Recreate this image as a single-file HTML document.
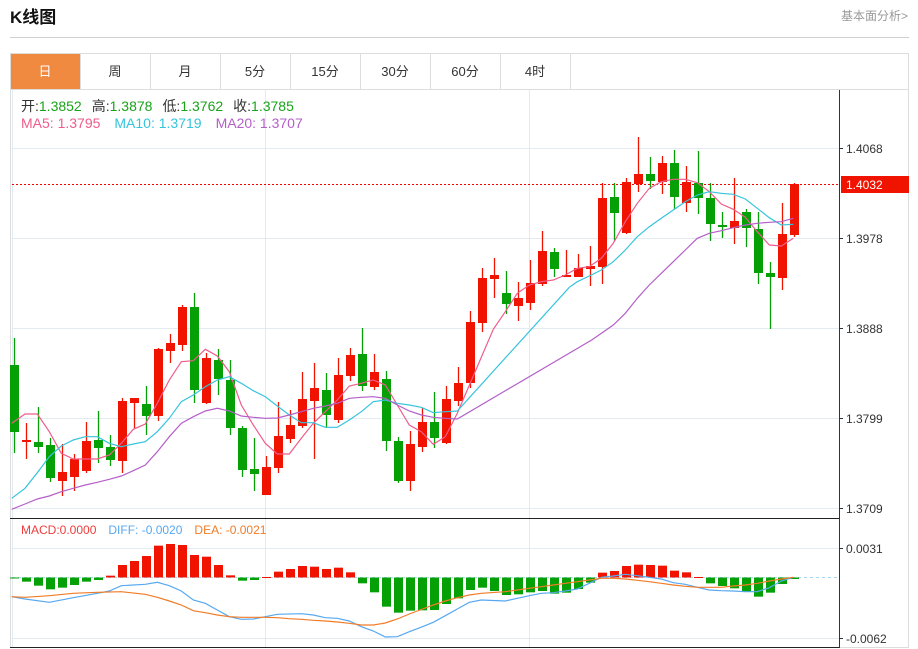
<!DOCTYPE html>
<html><head><meta charset="utf-8">
<style>
html,body{margin:0;padding:0;background:#fff;width:918px;height:649px;overflow:hidden}
body{font-family:"Liberation Sans","Noto Sans CJK SC",sans-serif;position:relative}
</style></head>
<body>
<svg id="s" width="918" height="649" xmlns="http://www.w3.org/2000/svg" style="position:absolute;left:0;top:0" font-family="Liberation Sans, Noto Sans CJK SC, sans-serif">
<text x="10" y="23" font-size="17" font-weight="bold" fill="#111">K线图</text>
<text x="908" y="20" font-size="12" fill="#999" text-anchor="end">基本面分析&gt;</text>
<line x1="10" y1="37.5" x2="909" y2="37.5" stroke="#d0d0d0"/>
<rect x="10.5" y="53.5" width="898" height="594" fill="none" stroke="#ddd"/>
<rect x="11" y="54" width="69" height="35" fill="#f08a40"/>
<line x1="10" y1="89.5" x2="909" y2="89.5" stroke="#ddd"/>
<g stroke="#ddd"><line x1="80.5" y1="53" x2="80.5" y2="89"/><line x1="150.5" y1="53" x2="150.5" y2="89"/><line x1="220.5" y1="53" x2="220.5" y2="89"/><line x1="290.5" y1="53" x2="290.5" y2="89"/><line x1="360.5" y1="53" x2="360.5" y2="89"/><line x1="430.5" y1="53" x2="430.5" y2="89"/><line x1="500.5" y1="53" x2="500.5" y2="89"/><line x1="570.5" y1="53" x2="570.5" y2="89"/></g>
<g font-size="13" text-anchor="middle" fill="#333"><text x="45" y="76" fill="#fff">日</text><text x="115" y="76">周</text><text x="185" y="76">月</text><text x="255" y="76">5分</text><text x="325" y="76">15分</text><text x="395" y="76">30分</text><text x="465" y="76">60分</text><text x="535" y="76">4时</text></g>
<g stroke="#e3ebf2"><line x1="12" y1="148.5" x2="839" y2="148.5"/><line x1="12" y1="238.5" x2="839" y2="238.5"/><line x1="12" y1="328.5" x2="839" y2="328.5"/><line x1="12" y1="418.5" x2="839" y2="418.5"/><line x1="12" y1="508.5" x2="839" y2="508.5"/><line x1="265.5" y1="90" x2="265.5" y2="648"/><line x1="529.5" y1="90" x2="529.5" y2="648"/><line x1="12.5" y1="90" x2="12.5" y2="648"/><line x1="12" y1="548.5" x2="839" y2="548.5"/><line x1="12" y1="638.5" x2="839" y2="638.5"/></g>
<line x1="839.5" y1="90" x2="839.5" y2="648" stroke="#333"/>
<line x1="10" y1="518.5" x2="839" y2="518.5" stroke="#222"/>
<line x1="10" y1="647.5" x2="839" y2="647.5" stroke="#222"/>
<g font-size="12" fill="#333"><line x1="839" y1="148.5" x2="843" y2="148.5" stroke="#333"/><text x="846" y="153">1.4068</text>
<line x1="839" y1="238.5" x2="843" y2="238.5" stroke="#333"/><text x="846" y="243">1.3978</text>
<line x1="839" y1="328.5" x2="843" y2="328.5" stroke="#333"/><text x="846" y="333">1.3888</text>
<line x1="839" y1="418.5" x2="843" y2="418.5" stroke="#333"/><text x="846" y="423">1.3799</text>
<line x1="839" y1="508.5" x2="843" y2="508.5" stroke="#333"/><text x="846" y="513">1.3709</text>
<line x1="839" y1="548.5" x2="843" y2="548.5" stroke="#333"/><text x="846" y="553">0.0031</text>
<line x1="839" y1="638.5" x2="843" y2="638.5" stroke="#333"/><text x="846" y="643">-0.0062</text></g>
<line x1="12" y1="184.5" x2="839" y2="184.5" stroke="#e00" stroke-dasharray="2,2"/>
<line x1="12" y1="577.5" x2="839" y2="577.5" stroke="#a8d8ef" stroke-dasharray="3,3"/>
<rect x="841" y="176" width="68" height="17" fill="#f01400"/>
<text x="846" y="189" font-size="12" fill="#fff">1.4032</text>
<g id="c"></g>
<g font-size="14"><text x="21" y="111"><tspan fill="#333">开:</tspan><tspan fill="#1aa31a">1.3852</tspan><tspan fill="#333" dx="10">高:</tspan><tspan fill="#1aa31a">1.3878</tspan><tspan fill="#333" dx="10">低:</tspan><tspan fill="#1aa31a">1.3762</tspan><tspan fill="#333" dx="10">收:</tspan><tspan fill="#1aa31a">1.3785</tspan></text>
<text x="21" y="128"><tspan fill="#ee5d8c">MA5: 1.3795</tspan><tspan fill="#35c4dc" dx="14">MA10: 1.3719</tspan><tspan fill="#b45fc8" dx="14">MA20: 1.3707</tspan></text></g>
<text x="21" y="534" font-size="12"><tspan fill="#f03c3c">MACD:0.0000</tspan><tspan fill="#57a8f0" dx="12">DIFF: -0.0020</tspan><tspan fill="#f07c28" dx="12">DEA: -0.0021</tspan></text>
</svg>
<script>
var R="#f01400",G="#05a005";
var K=[[365,432,338,453,0],[440,442,423,459,1],[442,447,407,453,0],[445,478,438,482,0],[472,481,444,496,1],[459,477,454,491,1],[441,471,422,473,1],[440,448,411,463,0],[447,460,435,466,0],[401,461,398,473,1],[398,403,398,428,1],[404,416,386,435,0],[349,416,348,421,1],[343,351,334,363,1],[307,345,305,351,1],[307,390,293,403,0],[358,403,353,404,1],[360,379,349,395,0],[380,428,360,435,0],[428,470,426,477,0],[469,474,438,491,0],[467,495,456,495,1],[436,468,402,473,1],[425,439,410,443,1],[399,426,372,428,1],[388,401,363,459,1],[390,415,373,428,0],[375,420,358,423,1],[355,376,348,381,1],[354,386,328,391,0],[372,387,354,390,1],[379,441,371,451,0],[441,481,437,483,0],[444,481,431,491,1],[422,447,408,452,1],[422,438,392,448,0],[399,443,386,444,1],[383,401,367,406,1],[322,383,311,388,1],[278,323,268,332,1],[275,279,258,298,1],[293,304,271,314,0],[298,306,282,321,1],[283,303,260,310,1],[251,284,231,286,1],[252,269,248,277,0],[275,277,250,277,1],[268,277,254,277,1],[266,269,246,286,1],[198,267,183,284,1],[197,213,183,241,0],[182,233,178,234,1],[174,184,137,192,1],[174,181,157,189,0],[163,182,156,194,1],[163,197,150,209,0],[182,203,166,212,1],[183,198,151,214,0],[198,224,183,241,0],[225,227,212,238,0],[221,228,178,244,1],[212,228,209,247,0],[229,273,212,284,0],[273,277,262,329,0],[234,278,203,290,1],[184,235,183,237,1]];
var M=[188,200,212,223,218,210,200,195,182,150,138,123,92,87,90,120,125,150,181,197,195,186,170,162,153,155,162,158,172,205,232,275,293,287,286,285,267,250,225,218,228,240,238,232,228,236,233,222,203,173,168,153,149,150,152,167,172,186,205,213,220,230,245,233,207,192];
var h="";
for(var i=0;i<K.length;i++){var k=K[i],x=14+12*i,c=k[4]?R:G;
h+='<line x1="'+(x+.5)+'" y1="'+k[2]+'" x2="'+(x+.5)+'" y2="'+k[3]+'" stroke="'+c+'" stroke-width="1.3"/>';
h+='<rect x="'+(x-4)+'" y="'+k[0]+'" width="9" height="'+Math.max(2,k[1]-k[0])+'" fill="'+c+'"/>';
var y=515+M[i]/3,z=577.5;h+='<rect x="'+(x-4)+'" y="'+Math.min(y,z)+'" width="9" height="'+Math.max(1,Math.abs(y-z))+'" fill="'+(y<z?R:G)+'"/>';}
function P(a,ox,oy,c){var s="";for(var j=0;j<a.length;j+=2)s+=(ox+a[j]/3).toFixed(1)+","+(oy+a[j+1]/3).toFixed(1)+" ";return s;}
function L(a,b,col){h+='<polyline fill="none" stroke="'+col+'" stroke-width="1.2" points="'+a+b+'"/>';}
L(P([35,430,75,402,112,402,148,455,184,520,220,537,256,537,292,537,328,525,364,490,400,448,436,432,472,370,508,300,544,245,580,242,616,208,652,228,688,275,724,375,760,435,796,490,832,522,868,522,904,475,940,430,976,395,1012,360,1048,318,1084,310,1120,300,1156,315,1192,375,1228,435,1264,455,1300,493,1336,470,1372,400],0,280),P([160,598,196,545,232,490,268,465,304,455,340,450,376,435,412,415,448,410,484,385,520,340,556,275,592,220,628,175,664,155,700,148,736,148,772,158,808,185,844,222,880,238,916,262,952,305,988,345,1024,348,1060,325],440,130),"#ee5d8c");
L(P([35,655,75,625,112,578,148,530,184,498,220,480,256,470,292,470,328,490,364,500,400,492,436,485,472,455,508,415,544,365,580,345,616,320,652,300,688,290,724,310,760,332,796,350,832,378,868,405,904,428,940,428,976,442,1012,442,1048,420,1084,395,1120,365,1156,360,1192,370,1228,375,1264,382,1300,398,1336,395,1372,393],0,280),P([388,472,412,455,448,438,484,420,520,395,556,360,592,320,628,290,664,265,700,240,736,215,772,195,808,185,844,190,880,193,916,207,952,235,988,263,1024,285,1060,283],440,130),"#35c4dc");
L(P([35,688,75,672,112,657,148,648,184,635,220,625,256,615,292,607,328,598,364,588,400,572,436,555,472,515,508,470,544,430,580,410,616,393,652,385,688,393,724,408,760,412,796,415,832,414,868,405,904,395,940,385,976,378,1012,370,1048,355,1084,352,1120,350,1156,355,1192,375,1228,393,1264,405,1300,412,1336,415,1372,417],0,280),P([455,630,520,585,556,550,592,505,628,465,664,430,700,395,736,360,772,325,808,310,844,302,880,293,916,285,952,280,988,277,1024,275,1060,265],440,130),"#b45fc8");
L(P([35,245,75,252,148,262,220,248,292,235,328,228,364,212,436,208,472,202,508,212,544,228,580,255,616,265,652,285,688,305,724,313,760,312,796,305,832,298,904,296,940,300,976,308,1012,310,1048,318,1084,335,1120,348,1156,366,1192,365,1228,350,1260,338],0,515),P([40,322,76,302,112,282,148,262,184,255,256,258,292,250,328,242,364,235,400,233,436,228,472,222,508,205,544,187,580,183,616,178,652,182,688,187,724,192,760,203,796,208,832,217,868,225,904,227,940,228,976,230,1012,230,1048,218,1084,198,1120,187],420,515),"#57a8f0");
L(P([35,245,75,247,148,242,220,235,292,232,364,230,436,238,472,247,508,258,544,270,580,287,616,293,652,300,688,305,724,307,760,307,796,307,832,308,868,311,904,313,940,316,976,318,1012,321,1048,325,1084,330,1120,330,1156,324,1192,312,1228,297,1260,285],0,515),P([40,270,76,258,112,248,148,240,184,235,256,230,292,225,328,220,364,215,400,210,436,205,472,200,508,195,544,190,580,190,616,192,652,196,688,200,724,205,760,210,796,214,832,217,868,217,904,217,940,213,976,210,1012,205,1048,198,1084,192,1120,187],420,515),"#f07c28");
document.getElementById("c").innerHTML=h;
</script>
</body></html>
